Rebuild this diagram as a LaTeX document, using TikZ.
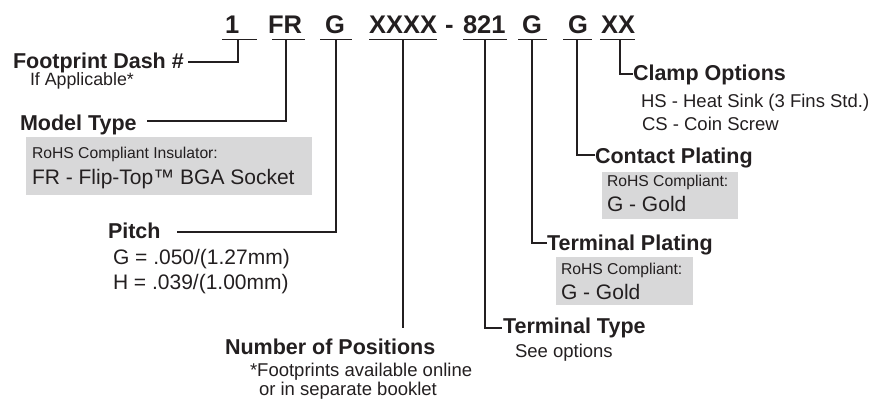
\documentclass[tikz,border=0pt]{standalone}
\usepackage{fontspec}
\setmainfont{Liberation Sans}
\definecolor{ink}{HTML}{231F20}
\definecolor{boxgray}{HTML}{D8D8D9}
\begin{document}
\begin{tikzpicture}[x=1pt,y=-1pt,
  every node/.style={inner sep=0pt, outer sep=0pt, anchor=base west, text=ink},
  hdr/.style={font=\fontsize{25.5}{28}\selectfont\bfseries},
  ttl/.style={font=\fontsize{21.5}{24}\selectfont\bfseries},
  txt/.style={font=\fontsize{18.5}{21}\selectfont},
  note/.style={font=\fontsize{17.8}{20}\selectfont},
  big/.style={font=\fontsize{21}{24}\selectfont},
  small/.style={font=\fontsize{15.7}{18}\selectfont},
  lead/.style={draw=ink, line width=1.3pt},
  shade/.style={fill=boxgray, draw=none, anchor=north west}]
\useasboundingbox (0,0) rectangle (877,400);

% gray boxes
\node[shade, minimum width=286pt, minimum height=58pt] (mtbox) at (26,137) {};
\node[shade, minimum width=136pt, minimum height=47pt] (cpbox) at (602,172) {};
\node[shade, minimum width=137pt, minimum height=48pt] (tpbox) at (556,257) {};

% header
\node[hdr] (h1) at (225,33) {1};
\node[hdr] (h2) at (268,33) {FR};
\node[hdr] (h3) at (325,33) {G};
\node[hdr] (h4) at (369,33) {XXXX};
\node[hdr] (hd) at (445,33) {-};
\node[hdr] (h5) at (463,33) {821};
\node[hdr] (h6) at (522,33) {G};
\node[hdr] (h7) at (568,33) {G};
\node[hdr] (h8) at (601,33) {XX};

% underlines
\draw[lead] (222,39.5) -- (257,39.5);
\draw[lead] (272,39.5) -- (305,39.5);
\draw[lead] (320,39.5) -- (352,39.5);
\draw[lead] (369,39.5) -- (437,39.5);
\draw[lead] (463,39.5) -- (507,39.5);
\draw[lead] (518,39.5) -- (547,39.5);
\draw[lead] (563,39.5) -- (592,39.5);
\draw[lead] (600,39.5) -- (635,39.5);

% labels
\node[ttl] (fd) at (13,68) {Footprint Dash \#};
\node[note] (fdn) at (30,85) {If Applicable*};
\node[ttl] (mt) at (20,130) {Model Type};
\node[small] (mt1) at (32,158) {RoHS Compliant Insulator:};
\node[big] (mt2) at (32,184) {FR - Flip-Top™ BGA Socket};
\node[ttl] (pi) at (108,238) {Pitch};
\node[big] (pi1) at (113,264) {G = .050/(1.27mm)};
\node[big] (pi2) at (113,289) {H = .039/(1.00mm)};
\node[ttl] (np) at (225,354) {Number of Positions};
\node[txt] (np1) at (250,376) {*Footprints available online};
\node[txt] (np2) at (259,395) {or in separate booklet};
\node[ttl] (tt) at (503,333) {Terminal Type};
\node[txt] (tt1) at (515,357) {See options};
\node[ttl] (tp) at (547,250) {Terminal Plating};
\node[small] (tp1) at (561,274) {RoHS Compliant:};
\node[big] (tp2) at (561,299) {G - Gold};
\node[ttl] (cp) at (595,163) {Contact Plating};
\node[small] (cp1) at (607,186) {RoHS Compliant:};
\node[big] (cp2) at (607,211) {G - Gold};
\node[ttl] (co) at (633,80) {Clamp Options};
\node[txt] (co1) at (641,107) {HS - Heat Sink (3 Fins Std.)};
\node[txt] (co2) at (642,130) {CS - Coin Screw};

% leader coordinates
\coordinate (t1) at (238,39.5);  \coordinate (e1) at (188,62);
\coordinate (t2) at (286,39.5);  \coordinate (e2) at (147,121);
\coordinate (t3) at (336,39.5);  \coordinate (e3) at (177,232);
\coordinate (t4) at (403,39.5);  \coordinate (e4) at (403,328);
\coordinate (t5) at (485,39.5);  \coordinate (e5) at (502,328);
\coordinate (t6) at (532,39.5);  \coordinate (e6) at (547,243);
\coordinate (t7) at (577,39.5);  \coordinate (e7) at (595,155);
\coordinate (t8) at (620,39.5);  \coordinate (e8) at (633,74);

\draw[lead] (t1) |- (e1);
\draw[lead] (t2) |- (e2);
\draw[lead] (t3) |- (e3);
\draw[lead] (t4) -- (e4);
\draw[lead] (t5) |- (e5);
\draw[lead] (t6) |- (e6);
\draw[lead] (t7) |- (e7);
\draw[lead] (t8) |- (e8);
\end{tikzpicture}
\end{document}
